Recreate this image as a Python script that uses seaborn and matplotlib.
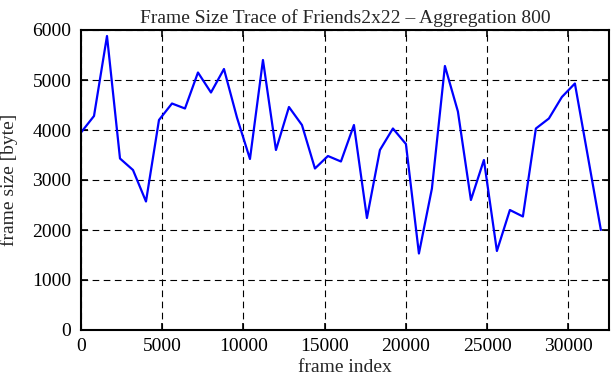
import numpy as np
import pandas as pd
import seaborn as sns
import matplotlib
matplotlib.use("Agg")
import matplotlib.pyplot as plt

# frame index (aggregation step 800) and aggregated frame size in bytes
frame_index = [0, 800, 1600, 2400, 3200, 4000, 4800, 5600, 6400, 7200,
               8000, 8800, 9600, 10400, 11200, 12000, 12800, 13600, 14400, 15200,
               16000, 16800, 17600, 18400, 19200, 20000, 20800, 21600, 22400, 23200,
               24000, 24800, 25600, 26400, 27200, 28000, 28800, 29600, 30400, 31200,
               32000]
frame_size = [3950, 4280, 5880, 3430, 3200, 2570, 4200, 4530, 4430, 5150,
              4750, 5220, 4250, 3420, 5400, 3600, 4460, 4100, 3230, 3480,
              3370, 4100, 2240, 3600, 4030, 3720, 1530, 2830, 5280, 4370,
              2600, 3400, 1580, 2400, 2270, 4030, 4230, 4660, 4930, 3470,
              2000]

x_ticks = [0, 5000, 10000, 15000, 20000, 25000, 30000]
y_ticks = [0, 1000, 2000, 3000, 4000, 5000, 6000]

df = pd.DataFrame({"frame index": frame_index, "frame size [byte]": frame_size})

sns.set_style("ticks")
plt.rcParams["font.family"] = ["Liberation Serif", "DejaVu Serif"]

fig = plt.figure(figsize=(6.11, 3.80), dpi=100)
ax = fig.add_axes([81 / 611, 1 - 330 / 380, 528 / 611, 300 / 380])

sns.lineplot(data=df, x="frame index", y="frame size [byte]", color="#0000ff",
             linewidth=1.6, ax=ax)

ax.set_xlim(0, 32500)
ax.set_ylim(0, 6000)
ax.set_xticks(x_ticks)
ax.set_yticks(y_ticks)
ax.grid(True, color="black", linestyle=(0, (6, 4)), linewidth=0.8)
ax.tick_params(direction="in", length=5, width=1.2, top=True, right=True,
               labelsize=14, colors="black")
ax.tick_params(axis="y", pad=7)
ax.tick_params(axis="x", pad=6)
for s in ax.spines.values():
    s.set_linewidth(1.5)
    s.set_color("black")

ax.set_title("Frame Size Trace of Friends2x22 \u2013 Aggregation 800", fontsize=14, pad=5)
ax.set_xlabel("frame index", fontsize=14, labelpad=3)
ax.set_ylabel("frame size [byte]", fontsize=14, labelpad=10)

fig.savefig("out.png", dpi=100)
